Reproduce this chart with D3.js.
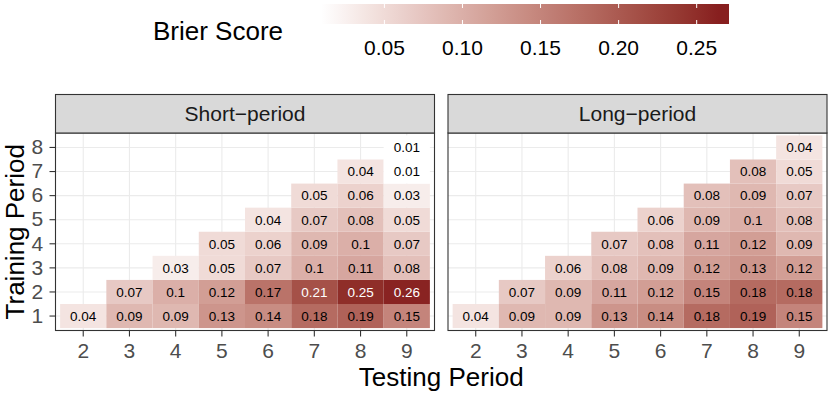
<!DOCTYPE html>
<html>
<head>
<meta charset="utf-8">
<script src="https://cdn.jsdelivr.net/npm/d3@7"></script>
<style>
  body { margin: 0; background: #fff; }
  text { font-family: "Liberation Sans", Arial, sans-serif; }
</style>
</head>
<body>
<div id="chart"></div>
<script>
// testing periods (x) and training periods (y)
const testing = [2, 3, 4, 5, 6, 7, 8, 9];
const training = [1, 2, 3, 4, 5, 6, 7, 8];
const panels = ["Short\u2212period", "Long\u2212period"];

// rows by training period, values for testing = training+1 .. 9
const shortRows = [
  [0.04, 0.09, 0.09, 0.13, 0.14, 0.18, 0.19, 0.15],
  [0.07, 0.1, 0.12, 0.17, 0.21, 0.25, 0.26],
  [0.03, 0.05, 0.07, 0.1, 0.11, 0.08],
  [0.05, 0.06, 0.09, 0.1, 0.07],
  [0.04, 0.07, 0.08, 0.05],
  [0.05, 0.06, 0.03],
  [0.04, 0.01],
  [0.01]
];
const longRows = [
  [0.04, 0.09, 0.09, 0.13, 0.14, 0.18, 0.19, 0.15],
  [0.07, 0.09, 0.11, 0.12, 0.15, 0.18, 0.18],
  [0.06, 0.08, 0.09, 0.12, 0.13, 0.12],
  [0.07, 0.08, 0.11, 0.12, 0.09],
  [0.06, 0.09, 0.1, 0.08],
  [0.08, 0.09, 0.07],
  [0.08, 0.05],
  [0.04]
];
const legendBreaks = [0.05, 0.10, 0.15, 0.20, 0.25];
const fillLimits = [0.0095, 0.264];

function toCells(rows) {
  const out = [];
  rows.forEach((r, i) => {
    const tr = training[i];
    r.forEach((v, j) => out.push({ train: tr, test: tr + 1 + j, value: v }));
  });
  return out;
}
const panelData = [toCells(shortRows), toCells(longRows)];

const W = 831, H = 395;
const svg = d3.select("#chart").append("svg")
  .attr("width", W).attr("height", H);

const color = d3.scaleLinear()
  .domain(fillLimits)
  .range(["#ffffff", "#871f1f"])
  .interpolate(d3.interpolateLab)
  .clamp(true);

const stripTop = 94.5, stripBot = 133, panelBot = 330.5;
const panelW = 379;
const panelX = [55.5, 448];
const tickLen = 6, tickPad = 6.3;
const smallFont = 21, bigFont = 26;

const y = d3.scaleBand()
  .domain(training.slice().reverse())
  .range([stripBot, panelBot])
  .paddingInner(0).paddingOuter(0.1);

panelX.forEach((px, pi) => {
  const x = d3.scaleBand()
    .domain(testing)
    .range([px, px + panelW])
    .paddingInner(0).paddingOuter(0.1);

  const g = svg.append("g");
  g.append("rect")
    .attr("x", px).attr("y", stripBot)
    .attr("width", panelW).attr("height", panelBot - stripBot)
    .attr("fill", "#fff");

  // grid
  g.selectAll("line.gx").data(testing).enter().append("line")
    .attr("x1", d => x(d) + x.bandwidth() / 2).attr("x2", d => x(d) + x.bandwidth() / 2)
    .attr("y1", stripBot).attr("y2", panelBot)
    .attr("stroke", "#ebebeb").attr("stroke-width", 1.1);
  g.selectAll("line.gy").data(training).enter().append("line")
    .attr("y1", d => y(d) + y.bandwidth() / 2).attr("y2", d => y(d) + y.bandwidth() / 2)
    .attr("x1", px).attr("x2", px + panelW)
    .attr("stroke", "#ebebeb").attr("stroke-width", 1.1);

  const cells = panelData[pi];
  g.selectAll("rect.tile").data(cells).enter().append("rect")
    .attr("x", d => x(d.test)).attr("y", d => y(d.train))
    .attr("width", x.bandwidth()).attr("height", y.bandwidth())
    .attr("fill", d => color(d.value));

  g.selectAll("text.lab").data(cells).enter().append("text")
    .attr("x", d => x(d.test) + x.bandwidth() / 2)
    .attr("y", d => y(d.train) + y.bandwidth() / 2)
    .attr("dy", "0.36em")
    .attr("text-anchor", "middle")
    .attr("font-size", 13.5)
    .attr("fill", d => d.value > 0.2 ? "#fff" : "#000")
    .text(d => d3.format("")(d.value));

  // panel border
  g.append("rect")
    .attr("x", px).attr("y", stripBot)
    .attr("width", panelW).attr("height", panelBot - stripBot)
    .attr("fill", "none").attr("stroke", "#333").attr("stroke-width", 1.1);

  // strip
  g.append("rect")
    .attr("x", px).attr("y", stripTop)
    .attr("width", panelW).attr("height", stripBot - stripTop)
    .attr("fill", "#d9d9d9").attr("stroke", "#333").attr("stroke-width", 1.1);
  g.append("text")
    .attr("x", px + panelW / 2).attr("y", (stripTop + stripBot) / 2)
    .attr("dy", "0.36em").attr("text-anchor", "middle")
    .attr("font-size", smallFont).attr("fill", "#1a1a1a")
    .text(panels[pi]);

  // x axis
  const xa = g.append("g")
    .attr("transform", `translate(0,${panelBot})`)
    .call(d3.axisBottom(x).tickSize(tickLen).tickPadding(tickPad));
  xa.select(".domain").remove();
  xa.selectAll(".tick line").attr("stroke", "#333").attr("stroke-width", 1.1);
  xa.selectAll(".tick text").attr("font-size", smallFont).attr("fill", "#4d4d4d")
    .attr("font-family", "Liberation Sans, Arial, sans-serif");

  if (pi === 0) {
    const ya = g.append("g")
      .attr("transform", `translate(${px},0)`)
      .call(d3.axisLeft(y).tickSize(tickLen).tickPadding(tickPad));
    ya.select(".domain").remove();
    ya.selectAll(".tick line").attr("stroke", "#333").attr("stroke-width", 1.1);
    ya.selectAll(".tick text").attr("font-size", smallFont).attr("fill", "#4d4d4d")
      .attr("font-family", "Liberation Sans, Arial, sans-serif");
  }
});

// axis titles
svg.append("text")
  .attr("x", (panelX[0] + panelX[1] + panelW) / 2).attr("y", 386)
  .attr("text-anchor", "middle").attr("font-size", bigFont).attr("fill", "#000")
  .text("Testing Period");
svg.append("text")
  .attr("transform", `translate(24,${(stripBot + panelBot) / 2}) rotate(-90)`)
  .attr("text-anchor", "middle").attr("font-size", bigFont).attr("fill", "#000")
  .text("Training Period");

// legend colourbar
const barX0 = 310.7, barX1 = 729, barY = 4, barH = 20;
const nbin = 20;
const defs = svg.append("defs");
const grad = defs.append("linearGradient").attr("id", "bar");
d3.range(nbin).forEach(i => {
  const v = fillLimits[0] + (fillLimits[1] - fillLimits[0]) * i / (nbin - 1);
  grad.append("stop").attr("offset", (i + 0.5) / nbin).attr("stop-color", color(v));
});
svg.append("rect")
  .attr("x", barX0).attr("y", barY).attr("width", barX1 - barX0).attr("height", barH)
  .attr("fill", "url(#bar)");

const lx = d3.scaleLinear()
  .domain(fillLimits)
  .range([barX0 + (barX1 - barX0) * 0.5 / nbin, barX1 - (barX1 - barX0) * 0.5 / nbin]);

legendBreaks.forEach(b => {
  svg.append("line").attr("x1", lx(b)).attr("x2", lx(b))
    .attr("y1", barY).attr("y2", barY + barH / 5)
    .attr("stroke", "#fff").attr("stroke-width", 1);
  svg.append("line").attr("x1", lx(b)).attr("x2", lx(b))
    .attr("y1", barY + barH - barH / 5).attr("y2", barY + barH)
    .attr("stroke", "#fff").attr("stroke-width", 1);
  svg.append("text").attr("x", lx(b)).attr("y", 55)
    .attr("text-anchor", "middle").attr("font-size", smallFont).attr("fill", "#000")
    .text(d3.format(".2f")(b));
});
svg.append("text").attr("x", 153).attr("y", 40)
  .attr("font-size", bigFont).attr("fill", "#000")
  .text("Brier Score");
</script>
</body>
</html>
